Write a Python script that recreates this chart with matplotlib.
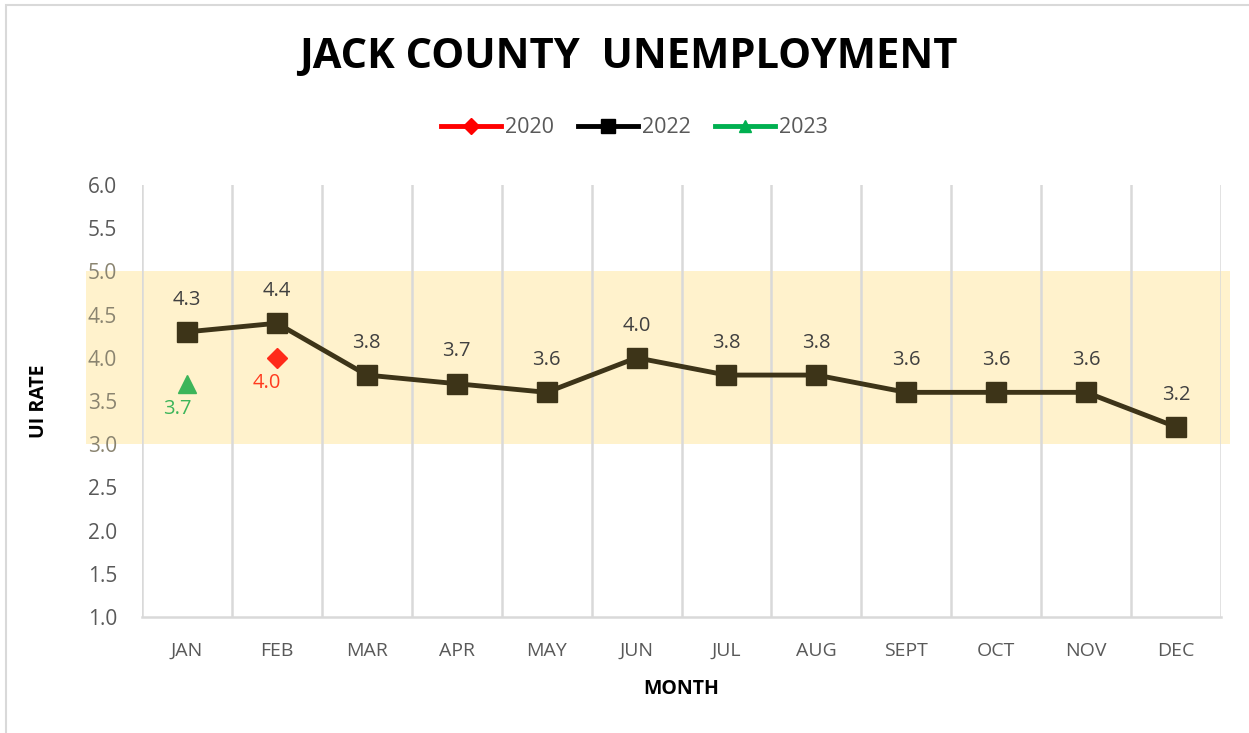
import matplotlib
matplotlib.use('Agg')
import matplotlib.pyplot as plt
from matplotlib.lines import Line2D
from matplotlib.patches import Rectangle
import numpy as np

months = ['JAN', 'FEB', 'MAR', 'APR', 'MAY', 'JUN', 'JUL', 'AUG', 'SEPT', 'OCT', 'NOV', 'DEC']
rate_2022 = [4.3, 4.4, 3.8, 3.7, 3.6, 4.0, 3.8, 3.8, 3.6, 3.6, 3.6, 3.2]
rate_2020 = {'FEB': 4.0}
rate_2023 = {'JAN': 3.7}
y_ticks = [1.0, 1.5, 2.0, 2.5, 3.0, 3.5, 4.0, 4.5, 5.0, 5.5, 6.0]
band = (3.0, 5.0)

plt.rcParams['font.family'] = ['Open Sans', 'DejaVu Sans']

fig = plt.figure(figsize=(12.49, 7.33), dpi=100)
ax = fig.add_axes([0.1137, 0.1583, 0.8639, 0.5893])

x = np.arange(len(months))
c2022 = '#3d3418'
red = '#ff2a1a'
green = '#3cb55a'

# shaded band, goes past the plot area a bit like the original
ax.add_patch(Rectangle((-1.12, band[0]), 12.72, band[1] - band[0],
                       facecolor='#fff2cc', edgecolor='none', clip_on=False, zorder=0))

ax.plot(x, rate_2022, color=c2022, lw=3.5, marker='s', ms=14, zorder=3)
for xi, v in zip(x, rate_2022):
    ax.annotate(f'{v:.1f}', (xi, v), xytext=(0, 16), textcoords='offset points',
                ha='center', va='bottom', fontsize=14.5, color='#404040')

for m, v in rate_2020.items():
    i = months.index(m)
    ax.plot(i, v, marker='D', color=red, ms=10, ls='none', zorder=4)
    ax.annotate(f'{v:.1f}', (i, v), xytext=(-7, -11), textcoords='offset points',
                ha='center', va='top', fontsize=14.5, color='#ff3b1f')

for m, v in rate_2023.items():
    i = months.index(m)
    ax.plot(i, v, marker='^', color=green, ms=13, ls='none', zorder=4)
    ax.annotate(f'{v:.1f}', (i, v), xytext=(-7, -11), textcoords='offset points',
                ha='center', va='top', fontsize=14.5, color=green)

ax.set_xlim(-0.5, len(months) - 0.5)
ax.set_ylim(1.0, 6.0)
ax.set_yticks(y_ticks)
ax.set_yticklabels([f'{t:.1f}' for t in y_ticks], fontsize=15)
for lab, t in zip(ax.get_yticklabels(), y_ticks):
    lab.set_color('#8a8470' if band[0] <= t <= band[1] else '#595959')
ax.set_xticks(x)
ax.set_xticklabels(months, fontsize=14, color='#595959')
ax.tick_params(axis='y', length=0, pad=18)
ax.tick_params(axis='x', length=0, pad=18)

# category boundary grid lines
for b in np.arange(-0.5, len(months), 1.0):
    ax.axvline(b, color='#d9d9d9', lw=1.8, zorder=1)
for s in ['top', 'right', 'left']:
    ax.spines[s].set_visible(False)
ax.spines['bottom'].set_color('#d9d9d9')
ax.spines['bottom'].set_linewidth(1.8)

ax.set_xlabel('MONTH', fontsize=14, fontweight='bold', color='black', labelpad=14)
ax.set_ylabel('UI RATE', fontsize=14, fontweight='bold', color='black', labelpad=28)

fig.text(0.503, 0.922, 'JACK COUNTY  UNEMPLOYMENT', ha='center', va='center',
         fontsize=30, fontweight='bold', color='black')

handles = [
    Line2D([], [], color='red', lw=3.5, marker='D', ms=8),
    Line2D([], [], color='black', lw=3.5, marker='s', ms=10),
    Line2D([], [], color='#00b050', lw=3.5, marker='^', ms=9),
]
fig.legend(handles, ['2020', '2022', '2023'], loc='center', bbox_to_anchor=(0.508, 0.826),
           ncol=3, frameon=False, fontsize=15.5, handlelength=2.8, handletextpad=0.2,
           columnspacing=1.1, labelcolor='#595959')

# outer chart border
fig.add_artist(Rectangle((0.005, -0.01), 1.0, 1.003, transform=fig.transFigure,
                         fill=False, edgecolor='#d9d9d9', lw=1.5))

fig.savefig('out.png', dpi=100)
